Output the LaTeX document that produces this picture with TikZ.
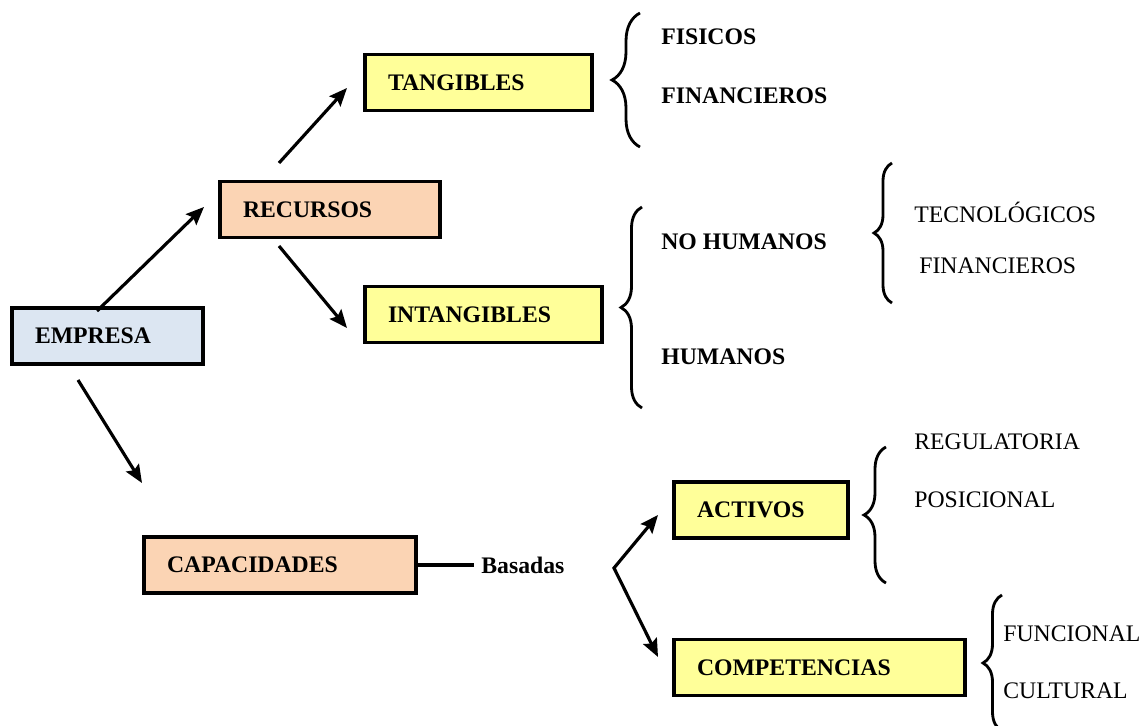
\documentclass[tikz,border=0pt]{standalone}
\usepackage{fontspec}
\setmainfont{Liberation Serif}
\usetikzlibrary{positioning,arrows.meta,decorations.pathreplacing}
\definecolor{azulcaja}{HTML}{DCE6F2}
\definecolor{salmon}{HTML}{FBD4B4}
\definecolor{amarillo}{HTML}{FFFF99}
\tikzset{
  caja/.style={draw, line width=2.2pt, minimum height=1.12cm, inner xsep=0.46cm,
    align=left, font=\fontsize{13.5}{16}\selectfont\bfseries},
  punta/.tip={Stealth[length=0.36cm,width=0.3cm,inset=0.06cm]},
  flecha/.style={line width=1.8pt, -punta},
  llave/.style={line width=1.6pt, decorate, decoration={brace, amplitude=#1}},
  llave/.default=0.4cm,
  negrita/.style={anchor=west, inner sep=0pt, font=\fontsize{13.5}{16}\selectfont\bfseries},
  fina/.style={anchor=west, inner sep=0pt, font=\fontsize{13.5}{16}\selectfont},
}

\begin{document}
\begin{tikzpicture}[x=0.02cm, y=-0.02cm]
\useasboundingbox (0,0) rectangle (1144,726);

% cajas
\node[caja, fill=azulcaja, text width=2.9cm] (empresa) at (107.5,336) {EMPRESA};
\node[caja, fill=salmon, text width=3.48cm] (recursos) at (330,209.5) {RECURSOS};
\node[caja, fill=amarillo, text width=3.62cm] (tangibles) at (478.5,82.5) {TANGIBLES};
\node[caja, fill=amarillo, text width=3.82cm] (intangibles) at (483.5,314.5) {INTANGIBLES};
\node[caja, fill=salmon, text width=4.52cm] (capacidades) at (280,565) {CAPACIDADES};
\node[caja, fill=amarillo, text width=2.56cm] (activos) at (761,510) {ACTIVOS};
\node[caja, fill=amarillo, text width=4.9cm] (competencias) at (819.5,667.5) {COMPETENCIAS};

% textos
\node[negrita] (fisicos) at (661,37) {FISICOS};
\node[negrita] (financieros) at (661,96) {FINANCIEROS};
\node[negrita] (nohumanos) at (661,242) {NO HUMANOS};
\node[negrita] (humanos) at (661,357) {HUMANOS};
\node[fina] (tecnologicos) at (914,212) {TECNOLÓGICOS};
\node[fina] (financieros2) at (919,266) {FINANCIEROS};
\node[fina] (regulatoria) at (914,442) {REGULATORIA};
\node[fina] (posicional) at (914,500) {POSICIONAL};
\node[fina] (funcional) at (1003,634) {FUNCIONAL};
\node[fina] (cultural) at (1003,691) {CULTURAL};
\node[negrita] (basadas) at (481,565) {Basadas};

% flechas
\coordinate (e1) at (97,311);   \coordinate (r1) at (204,207);
\coordinate (r2) at (279,163);  \coordinate (t1) at (347,88);
\coordinate (r3) at (279,246);  \coordinate (i1) at (347,328);
\coordinate (e2) at (78,380);   \coordinate (c1) at (142,483);
\coordinate (v) at (614,568);
\coordinate (a1) at (658,515);  \coordinate (a2) at (658,657);

\draw[flecha] (e1) -- (r1);
\draw[flecha] (r2) -- (t1);
\draw[flecha] (r3) -- (i1);
\draw[flecha] (e2) -- (c1);
\draw[line width=2.2pt, shorten >=0.14cm] (capacidades.east) -- (capacidades.east -| basadas.west);
\draw[line width=1.8pt, punta-punta] (a1) -- (v) -- (a2);

% llaves
\draw[llave=0.56cm] (640,147) -- (640,13);
\draw[llave=0.42cm] (642,408) -- (642,207);
\draw[llave=0.36cm] (892,303) -- (892,163);
\draw[llave=0.44cm] (886,583) -- (886,447);
\draw[llave=0.38cm] (1002,731) -- (1002,595);

\end{tikzpicture}
\end{document}
